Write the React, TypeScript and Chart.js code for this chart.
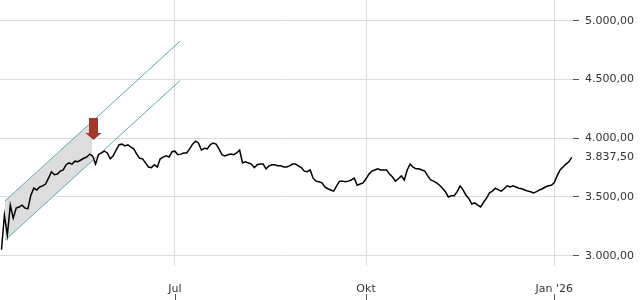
import React, { useEffect, useRef } from 'react';
import { Chart, registerables } from 'chart.js';

Chart.register(...registerables);

// Daily closes, one per trading day (Apr 2025 – Jan 2026)
const closes: number[] = [
  3050, 3345, 3175, 3430, 3320, 3405, 3415, 3430, 3405, 3400,
  3515, 3575, 3560, 3585, 3595, 3610, 3660, 3715, 3690, 3695,
  3720, 3730, 3775, 3790, 3780, 3805, 3800, 3815, 3830, 3840,
  3865, 3850, 3780, 3860, 3875, 3890, 3875, 3825, 3850, 3900,
  3945, 3950, 3935, 3945, 3925, 3910, 3865, 3830, 3825, 3790,
  3755, 3750, 3775, 3755, 3825, 3840, 3850, 3840, 3885, 3890,
  3860, 3865, 3875, 3875, 3910, 3950, 3975, 3960, 3900, 3915,
  3910, 3945, 3960, 3950, 3910, 3860, 3850, 3860, 3865, 3860,
  3875, 3900, 3790, 3800, 3790, 3780, 3750, 3775, 3780, 3780,
  3740, 3765, 3775, 3775, 3765, 3765, 3755, 3755, 3765, 3780,
  3780, 3765, 3750, 3720, 3715, 3730, 3660, 3635, 3630, 3620,
  3585, 3570, 3560, 3550, 3595, 3635, 3635, 3630, 3635, 3645,
  3660, 3600, 3610, 3620, 3655, 3695, 3720, 3730, 3740, 3730,
  3730, 3730, 3695, 3670, 3635, 3655, 3680, 3645, 3730, 3780,
  3755, 3740, 3740, 3730, 3720, 3680, 3645, 3635, 3620, 3600,
  3575, 3545, 3500, 3510, 3510, 3545, 3595, 3560, 3515, 3485,
  3440, 3450, 3430, 3415, 3455, 3490, 3535, 3550, 3575, 3560,
  3550, 3570, 3595, 3585, 3595, 3585, 3575, 3570, 3560, 3550,
  3545, 3535, 3545, 3560, 3570, 3585, 3595, 3600, 3620, 3680,
  3730, 3755, 3780, 3800, 3837.5,
];

const xTickIdx = [59, 124, 188];
const xTickLabels = ['Jul', 'Okt', "Jan '26"];
const yTickValues = [3000, 3500, 4000, 4500, 5000];
const lastPrice = closes[closes.length - 1];

// Trend channel: start, end of shaded part, end of extension
const channelIdx = [1.2, 30.8, 60.7];
const channelUpper = [3466, 4142, 4826];
const channelLower = [3131, 3807, 4491];

// Signal arrow
const arrowIdx = 31.3;
const arrowTip = 3985;

const yMin = 2912;
const yMax = 5178;
const xMin = -0.5;
const xMax = 194.4;

const TEXT = '#333';
const GRID = '#dcdcdc';
const TEAL = 'rgb(98,168,174)';
const FONT = { family: 'DejaVu Sans', size: 11 };

function fmt(v: number): string {
  const s = v.toFixed(2);
  const [i, d] = s.split('.');
  return i.replace(/\B(?=(\d{3})+(?!\d))/g, '.') + ',' + d;
}

export default function App() {
  const ref = useRef<HTMLCanvasElement>(null);

  useEffect(() => {
    document.body.style.margin = '0';
    const canvas = ref.current!;

    const arrowPlugin = {
      id: 'signalArrow',
      afterDatasetsDraw(chart: any) {
        const { ctx, scales } = chart;
        const px = scales.x.getPixelForValue(arrowIdx);
        const tip = scales.y.getPixelForValue(arrowTip);
        ctx.save();
        ctx.fillStyle = 'rgb(163,55,47)';
        ctx.beginPath();
        ctx.moveTo(px - 4.5, tip - 22);
        ctx.lineTo(px + 4.5, tip - 22);
        ctx.lineTo(px + 4.5, tip - 7);
        ctx.lineTo(px + 8, tip - 7);
        ctx.lineTo(px, tip);
        ctx.lineTo(px - 8, tip - 7);
        ctx.lineTo(px - 4.5, tip - 7);
        ctx.closePath();
        ctx.fill();
        ctx.restore();
      },
    };

    const xTickMarks = {
      id: 'xTickMarks',
      afterDraw(chart: any) {
        const { ctx, scales, height } = chart;
        ctx.save();
        ctx.strokeStyle = '#555';
        ctx.lineWidth = 1;
        xTickIdx.forEach((v) => {
          const px = Math.round(scales.x.getPixelForValue(v)) + 0.5;
          ctx.beginPath();
          ctx.moveTo(px, height - 6);
          ctx.lineTo(px, height);
          ctx.stroke();
        });
        ctx.restore();
      },
    };

    const pts = (xs: number[], ys: number[]) => xs.map((x, i) => ({ x, y: ys[i] }));

    const chart = new Chart(canvas, {
      type: 'line',
      data: {
        datasets: [
          {
            data: closes.map((v, i) => ({ x: i, y: v })),
            borderColor: '#000',
            borderWidth: 1.5,
            pointRadius: 0,
            tension: 0,
            fill: false,
            order: 0,
          },
          {
            data: pts(channelIdx, channelUpper),
            borderColor: TEAL,
            borderWidth: 1,
            pointRadius: 0,
            fill: false,
            order: 1,
          },
          {
            data: pts(channelIdx, channelLower),
            borderColor: TEAL,
            borderWidth: 1,
            pointRadius: 0,
            fill: false,
            order: 1,
          },
          {
            data: pts(channelIdx.slice(0, 2), channelLower.slice(0, 2)),
            borderWidth: 0,
            borderColor: 'rgba(0,0,0,0)',
            pointRadius: 0,
            fill: false,
            order: 3,
          },
          {
            data: pts(channelIdx.slice(0, 2), channelUpper.slice(0, 2)),
            borderWidth: 0,
            borderColor: 'rgba(0,0,0,0)',
            backgroundColor: '#dddddd',
            pointRadius: 0,
            fill: '-1',
            order: 2,
          },
        ],
      },
      options: {
        animation: false,
        responsive: true,
        maintainAspectRatio: false,
        events: [],
        layout: { padding: 0 },
        plugins: {
          legend: { display: false },
          tooltip: { enabled: false },
        },
        scales: {
          x: {
            type: 'linear',
            min: xMin,
            max: xMax,
            afterBuildTicks: (s: any) => {
              s.ticks = xTickIdx.map((v) => ({ value: v }));
            },
            afterFit: (s: any) => {
              s.height = 34;
              s.paddingLeft = 0;
              s.paddingRight = 0;
            },
            ticks: {
              autoSkip: false,
              maxRotation: 0,
              padding: 17,
              color: TEXT,
              font: FONT,
              callback: (v: any) => {
                const i = xTickIdx.indexOf(Number(v));
                return i >= 0 ? xTickLabels[i] : '';
              },
            },
            grid: { color: GRID, drawTicks: false },
            border: { display: false },
          },
          y: {
            type: 'linear',
            position: 'right',
            min: yMin,
            max: yMax,
            afterBuildTicks: (s: any) => {
              s.ticks = [...yTickValues, lastPrice]
                .sort((a, b) => a - b)
                .map((v) => ({ value: v }));
            },
            afterFit: (s: any) => {
              s.width = 67;
              s.paddingTop = 0;
              s.paddingBottom = 0;
            },
            ticks: {
              autoSkip: false,
              padding: 6,
              color: TEXT,
              font: FONT,
              callback: (v: any) => fmt(Number(v)),
            },
            grid: {
              color: (c: any) => (c.tick && c.tick.value === lastPrice ? 'rgba(0,0,0,0)' : GRID),
              tickColor: (c: any) => (c.tick && c.tick.value === lastPrice ? 'rgba(0,0,0,0)' : '#555'),
              tickLength: 6,
            },
            border: { display: false },
          },
        },
      },
      plugins: [arrowPlugin, xTickMarks],
    });

    return () => chart.destroy();
  }, []);

  return (
    <div style={{ width: 640, height: 300, position: 'relative' }}>
      <canvas ref={ref} />
    </div>
  );
}
